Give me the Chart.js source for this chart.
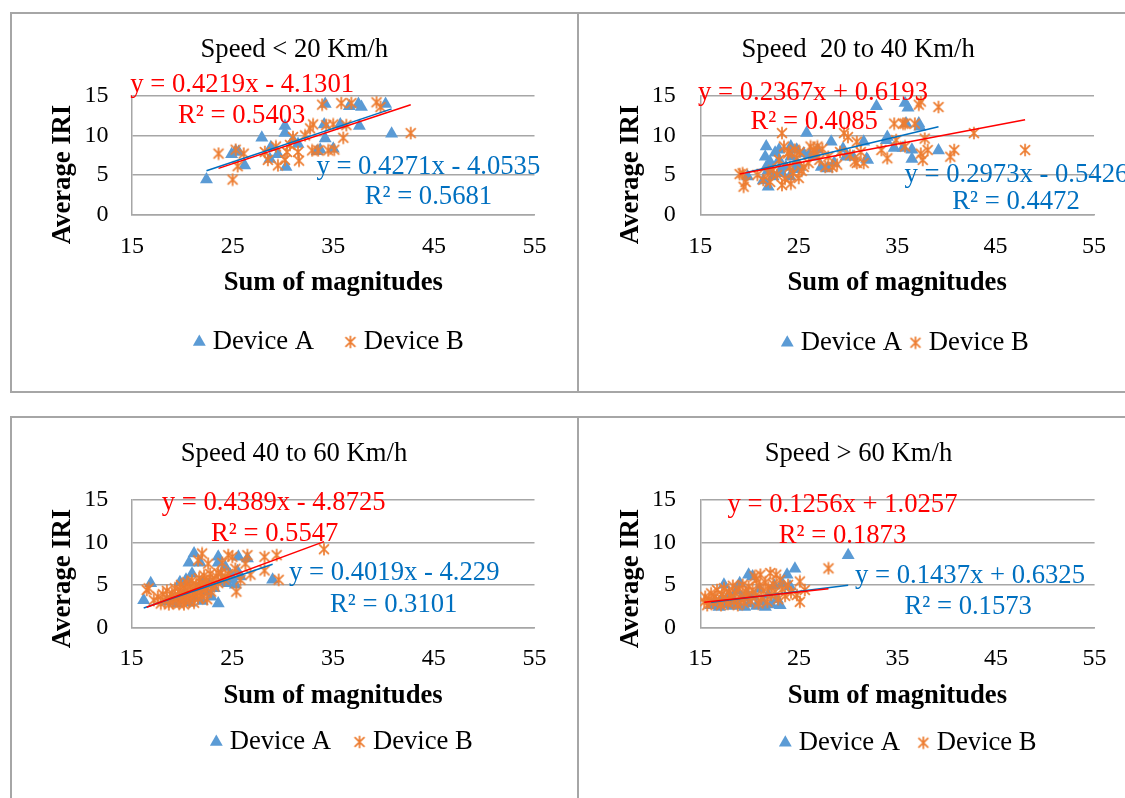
<!DOCTYPE html>
<html>
<head>
<meta charset="utf-8">
<script src="https://cdn.jsdelivr.net/npm/chart.js@4.4.0/dist/chart.umd.min.js"></script>
<style>
html, body { margin: 0; padding: 0; background: #fff; }
body { width: 1125px; height: 798px; overflow: hidden; position: relative; }
.panel { position: absolute; box-sizing: border-box; border: 2px solid #a6a6a6; }
canvas { position: absolute; }
</style>
</head>
<body>
<div class="panel" style="left:10px;top:12px;width:569px;height:381px"></div>
<div class="panel" style="left:577px;top:12px;width:560px;height:381px"></div>
<div class="panel" style="left:10px;top:416px;width:569px;height:400px"></div>
<div class="panel" style="left:577px;top:416px;width:560px;height:400px"></div>
<canvas id="c0" width="620" height="377" style="left:12px;top:14px"></canvas>
<canvas id="c1" width="620" height="377" style="left:579px;top:14px"></canvas>
<canvas id="c2" width="620" height="380" style="left:12px;top:418px"></canvas>
<canvas id="c3" width="620" height="380" style="left:579px;top:418px"></canvas>
<script>
const panelTitles = ['Speed < 20 Km/h', 'Speed  20 to 40 Km/h', 'Speed 40 to 60 Km/h', 'Speed > 60 Km/h'];
const seriesNames = ['Device A', 'Device B'];
const xRange = [15, 55];
const yRange = [0, 15];

// Speed < 20
const a1x = [22.4, 24.9, 25.3, 25.6, 26.2, 27.9, 28.8, 28.7, 29.5, 30.2, 30.2, 30.3, 31.0, 31.5, 33.4, 33.7, 34.2, 34.2, 34.1, 35.0, 35.7, 36.6, 37.5, 37.8, 37.6, 40.2, 40.8];
const a1y = [4.4, 7.6, 8.0, 7.9, 6.2, 9.7, 8.5, 7.0, 7.6, 11.2, 10.3, 6.0, 9.4, 8.9, 8.0, 8.2, 9.6, 14.0, 11.4, 8.3, 11.4, 13.7, 14.0, 13.6, 11.2, 14.0, 10.2];
const b1x = [23.6, 25.0, 25.3, 25.5, 26.1, 28.2, 28.5, 29.3, 29.5, 30.2, 30.4, 30.7, 31.0, 31.6, 31.5, 32.2, 32.7, 33.0, 32.9, 33.5, 33.9, 34.3, 34.5, 35.0, 35.1, 35.8, 36.0, 36.3, 36.8, 39.3, 39.7, 42.7];
const b1y = [7.7, 4.4, 8.2, 6.1, 7.7, 7.9, 6.9, 8.6, 6.2, 6.9, 7.9, 8.8, 9.8, 6.8, 7.9, 10.0, 10.9, 11.4, 8.1, 8.1, 13.9, 11.3, 8.1, 11.4, 8.2, 14.1, 9.7, 11.3, 14.1, 14.2, 13.6, 10.3];

// Speed 20 to 40
const a2x = [19.8, 21.4, 21.6, 21.7, 21.7, 21.9, 21.9, 22.1, 22.4, 22.6, 23.0, 23.0, 23.1, 23.3, 23.7, 24.1, 24.2, 24.2, 24.6, 24.8, 24.8, 25.1, 25.5, 25.8, 26.1, 26.6, 26.9, 27.3, 27.9, 28.3, 28.6, 29.5, 29.8, 30.5, 31.6, 31.9, 32.0, 32.9, 33.9, 34.0, 34.7, 35.6, 35.8, 35.9, 36.1, 36.5, 36.5, 37.2, 37.3, 39.2];
const a2y = [4.8, 4.3, 7.3, 8.6, 6.0, 3.5, 5.6, 6.6, 4.8, 7.8, 8.2, 6.9, 5.5, 5.2, 6.0, 4.8, 7.3, 8.6, 5.7, 8.2, 6.5, 6.0, 7.7, 10.3, 7.6, 7.3, 8.2, 6.0, 5.8, 9.2, 6.5, 8.3, 7.3, 7.3, 9.2, 7.0, 6.9, 13.7, 9.4, 9.8, 8.4, 8.4, 14.1, 11.5, 13.5, 8.2, 7.0, 11.5, 11.1, 8.1];
const b2x = [19.0, 19.3, 19.4, 19.6, 20.8, 21.4, 22.1, 22.4, 23.0, 23.3, 23.3, 23.5, 23.9, 24.1, 24.2, 24.4, 24.8, 25.0, 25.1, 25.5, 26.2, 26.5, 26.6, 26.9, 27.1, 27.7, 28.0, 28.4, 29.6, 30.0, 30.2, 30.7, 30.9, 30.9, 31.3, 31.6, 33.4, 34.0, 34.7, 34.9, 35.6, 35.8, 35.8, 36.8, 37.2, 37.4, 37.4, 37.6, 37.8, 38.1, 39.2, 40.4, 40.8, 42.8, 48.0, 22.8, 23.6, 24.6, 25.3, 26.0, 27.4, 28.9, 29.2, 21.9, 24.0];
const b2y = [5.1, 5.2, 3.5, 4.1, 5.0, 4.35, 4.1, 5.6, 6.9, 10.3, 3.7, 8.6, 7.7, 6.0, 3.9, 5.2, 7.1, 4.6, 7.9, 6.0, 8.6, 8.15, 7.9, 8.6, 6.9, 6.0, 7.3, 6.0, 10.3, 9.8, 7.5, 6.7, 9.2, 6.5, 7.9, 6.5, 8.15, 7.1, 11.5, 9.4, 11.5, 11.5, 8.6, 11.5, 13.9, 14.3, 7.7, 6.9, 9.6, 8.15, 13.6, 7.3, 8.15, 10.3, 8.15, 5.0, 4.5, 8.2, 5.5, 6.5, 8.3, 6.3, 7.9, 5.3, 7.9];

// Speed 40 to 60
const a3x = [16.2, 16.9, 18.5, 19.0, 19.5, 19.8, 20.0, 20.3, 20.4, 20.7, 20.8, 21.0, 21.2, 21.2, 21.6, 21.8, 22.0, 22.1, 22.3, 22.7, 22.9, 23.2, 23.6, 23.6, 23.6, 24.0, 24.3, 24.5, 24.8, 25.0, 25.3, 25.5, 25.6, 25.8, 26.5, 29.0];
const a3y = [3.2, 5.2, 3.0, 3.5, 2.8, 5.3, 3.2, 4.0, 5.6, 7.6, 2.9, 6.3, 8.7, 3.5, 4.6, 7.6, 3.1, 5.2, 4.2, 5.0, 3.6, 4.6, 8.3, 2.8, 7.6, 5.4, 7.1, 5.2, 6.2, 5.6, 5.0, 6.6, 8.3, 6.0, 8.1, 5.6];
const b3x = [17.2, 17.6, 17.9, 18.1, 18.3, 18.5, 18.7, 18.8, 19.0, 19.1, 19.3, 19.4, 19.6, 19.7, 19.8, 19.9, 20.0, 20.1, 20.2, 20.3, 20.4, 20.5, 20.6, 20.7, 20.8, 20.9, 21.0, 21.1, 21.2, 21.3, 21.4, 21.5, 21.6, 21.7, 21.8, 21.9, 22.0, 22.1, 22.2, 22.3, 22.4, 22.5, 22.6, 22.8, 22.9, 23.0, 23.2, 23.4, 23.6, 23.9, 24.2, 24.6,
  16.5, 16.7, 21.6, 22.0, 22.6, 24.0, 24.3, 24.6, 25.0, 25.3, 25.4, 25.8, 26.3, 26.5, 26.8, 28.2, 28.2, 29.4, 29.6, 34.1, 23.6];
const b3y = [3.2, 3.6, 2.8, 3.9, 3.1, 4.3, 2.7, 3.5, 4.0, 2.9, 4.6, 3.3, 3.8, 2.8, 4.4, 5.0, 3.3, 3.9, 2.7, 4.7, 3.5, 5.3, 4.1, 3.0, 4.8, 3.6, 5.5, 4.3, 2.9, 3.9, 5.0, 4.6, 3.4, 5.8, 4.1, 5.2, 3.6, 4.8, 6.1, 4.4, 5.5, 3.3, 5.0, 6.3, 4.2, 5.6, 4.8, 6.0, 5.2, 6.4, 5.6, 6.3,
  4.4, 4.6, 7.9, 8.7, 7.5, 7.6, 6.0, 8.5, 8.3, 6.9, 4.2, 5.6, 7.5, 8.5, 6.2, 8.3, 6.7, 8.5, 5.6, 9.2, 6.4];

// Speed > 60
const a4x = [16.1, 16.5, 16.9, 17.2, 17.4, 17.6, 17.9, 18.2, 18.4, 18.7, 18.9, 19.0, 19.2, 19.5, 19.7, 19.9, 20.0, 20.3, 20.4, 20.7, 21.0, 21.3, 21.6, 21.9, 22.2, 22.5, 22.8, 23.1, 23.3, 23.8, 24.1, 24.6, 30.0];
const a4y = [2.6, 3.1, 2.4, 3.4, 5.0, 2.7, 3.8, 2.5, 3.2, 4.3, 2.6, 5.2, 3.5, 2.4, 4.0, 6.2, 2.8, 6.0, 3.6, 2.5, 4.5, 3.0, 2.4, 3.8, 2.7, 4.9, 3.3, 2.6, 5.2, 6.2, 4.8, 6.9, 8.5];
const b4x = [15.4, 15.5, 15.7, 15.9, 16.1, 16.3, 16.5, 16.7, 16.9, 17.1, 17.2, 17.4, 17.6, 17.8, 17.9, 18.1, 18.3, 18.4, 18.6, 18.8, 18.9, 19.1, 19.3, 19.4, 19.6, 19.8, 19.9, 20.1, 20.3, 20.5, 20.6, 20.7, 20.9, 21.0, 21.1, 21.2, 21.4, 21.6, 21.8, 21.9, 22.1, 22.2, 22.4, 22.6, 22.7, 22.9, 23.1, 23.3, 23.6, 23.9, 24.2, 24.8, 25.1, 25.1, 25.6, 28.0];
const b4y = [3.0, 3.6, 2.6, 3.3, 4.0, 2.9, 3.6, 4.4, 3.1, 2.6, 3.9, 4.6, 3.3, 2.8, 4.2, 3.6, 4.9, 3.0, 4.0, 2.6, 4.6, 3.4, 5.0, 2.9, 4.2, 3.6, 4.8, 3.1, 4.4, 6.0, 3.7, 5.6, 2.8, 4.9, 6.2, 3.4, 4.3, 5.3, 3.0, 4.7, 6.4, 3.8, 5.1, 4.2, 6.2, 3.3, 5.6, 4.5, 3.7, 5.0, 4.1, 3.8, 5.4, 3.0, 4.4, 6.95];

// linear trendlines (as printed on the chart)
const slopeA = [0.4271, 0.2973, 0.4019, 0.1437];
const interceptA = [-4.0535, -0.5426, -4.229, 0.6325];
const r2A = [0.5681, 0.4472, 0.3101, 0.1573];
const slopeB = [0.4219, 0.2367, 0.4389, 0.1256];
const interceptB = [-4.1301, 0.6193, -4.8725, 1.0257];
const r2B = [0.5403, 0.4085, 0.5547, 0.1873];

const seriesA = [[a1x, a1y], [a2x, a2y], [a3x, a3y], [a4x, a4y]];
const seriesB = [[b1x, b1y], [b2x, b2y], [b3x, b3y], [b4x, b4y]];

// page layout of each panel (pixels)
const layouts = [
  { canvas: [12, 14, 620, 377], plot: [132, 96, 534.5, 214.3], legendY: 342, legendGap: 36.3, shift: -1.75, xTitleY: 283.3, yPad: 23.6, xPad: 17.6,
    eq: [[184.4, 78.3], [232.7, 108], [-1.8, -4], [46, 26.7]] },
  { canvas: [579, 14, 620, 377], plot: [700.3, 96, 1094, 214.3], legendY: 342.7, legendGap: 13.4, shift: 10.85, xTitleY: 283.3, yPad: 24.5, xPad: 17.6,
    eq: [[204.2, 85.7], [252, 113.3], [-2.3, 4], [50.2, 33.3]] },
  { canvas: [12, 418, 620, 380], plot: [131.6, 500, 534.5, 627.3], legendY: 742, legendGap: 28.4, shift: 11.5, xTitleY: 696, yPad: 23.4, xPad: 17.3,
    eq: [[157.4, 80], [198.4, 111.7], [30.2, 10], [79.4, 40.7]] },
  { canvas: [579, 418, 620, 380], plot: [700.3, 500, 1094.6, 627.3], legendY: 742.7, legendGap: 23.2, shift: 13.5, xTitleY: 696, yPad: 24.3, xPad: 17.3,
    eq: [[154.7, 83.3], [204.2, 114], [27.2, 11.7], [78.5, 42.7]] }
];

const BIG = 26.67;
const SERIF = "'Liberation Serif', 'Times New Roman', serif";
const Y_AXIS_W = 52;
Chart.defaults.font.family = SERIF;
Chart.defaults.color = '#000';

function starMarker(size, color) {
  const c = document.createElement('canvas');
  c.width = size; c.height = size;
  const g = c.getContext('2d');
  const m = size / 2, r = size / 2 - 0.8, d = r * 0.8;
  g.strokeStyle = color;
  g.lineWidth = 1.7;
  g.beginPath();
  g.moveTo(m - d, m - d); g.lineTo(m + d, m + d);
  g.moveTo(m + d, m - d); g.lineTo(m - d, m + d);
  g.moveTo(m, m - r); g.lineTo(m, m + r);
  g.stroke();
  return c;
}
const star = starMarker(14, '#ED7D31');

function points(xs, ys) {
  return xs.map((x, i) => ({ x: x, y: ys[i] }));
}
function trend(xs, a, b) {
  const lo = Math.min(...xs), hi = Math.max(...xs);
  return [{ x: lo, y: a * lo + b }, { x: hi, y: a * hi + b }];
}
function eqText(a, b) {
  return 'y = ' + a + 'x ' + (b < 0 ? '- ' : '+ ') + Math.abs(b);
}

const panelText = {
  id: 'panelText',
  afterDraw(chart, args, o) {
    const ctx = chart.ctx, a = chart.chartArea;
    ctx.save();
    ctx.fillStyle = '#000';
    ctx.font = BIG + 'px ' + SERIF;
    ctx.textAlign = 'center';
    ctx.textBaseline = 'alphabetic';
    ctx.fillText(o.title, (a.left + a.right) / 2 - 39, a.top - 38.7);

    ctx.save();
    ctx.translate(a.left - 62, a.top + 78.5);
    ctx.rotate(-Math.PI / 2);
    ctx.font = 'bold ' + BIG + 'px ' + SERIF;
    ctx.fillText('Average IRI', 0, 0);
    ctx.restore();

    ctx.textAlign = 'left';
    ctx.font = BIG + 'px ' + SERIF;
    o.labels.forEach(l => {
      ctx.fillStyle = l.color;
      ctx.fillText(l.text, a.left + l.pos[0], a.top + l.pos[1]);
    });
    ctx.restore();
  }
};

layouts.forEach((L, i) => {
  const [cx, cy, cw, ch] = L.canvas;
  const [pl, pt, pr, pb] = L.plot;
  // a spacer axis on the right lets the centred legend sit off the plot centre, as in the original
  const wy = Y_AXIS_W;
  const wr = Y_AXIS_W + 2 * L.shift;
  const legTop = L.legendY - L.legendGap - BIG / 2;
  const legBottom = legTop + BIG + L.legendGap + 10;
  const hx = legTop - pb;
  const xTitlePad = legTop - BIG * 1.2 / 2 - L.xTitleY;

  const labels = [
    { text: eqText(slopeA[i], interceptA[i]), color: '#0070C0', pos: L.eq[0] },
    { text: 'R² = ' + r2A[i], color: '#0070C0', pos: L.eq[1] },
    { text: eqText(slopeB[i], interceptB[i]), color: '#FF0000', pos: L.eq[2] },
    { text: 'R² = ' + r2B[i], color: '#FF0000', pos: L.eq[3] }
  ];

  new Chart(document.getElementById('c' + i), {
    type: 'scatter',
    data: {
      datasets: [
        { label: seriesNames[0], data: points(seriesA[i][0], seriesA[i][1]), pointStyle: 'triangle', pointRadius: 7.5,
          backgroundColor: '#5B9BD5', borderColor: '#5B9BD5', borderWidth: 0, order: 3 },
        { label: seriesNames[1], data: points(seriesB[i][0], seriesB[i][1]), pointStyle: star, pointRadius: 7,
          backgroundColor: '#ED7D31', borderColor: '#ED7D31', order: 2 },
        { label: 'trend A', data: trend(seriesA[i][0], slopeA[i], interceptA[i]), showLine: true, pointRadius: 0,
          borderColor: '#0070C0', borderWidth: 1.5, order: 1 },
        { label: 'trend B', data: trend(seriesB[i][0], slopeB[i], interceptB[i]), showLine: true, pointRadius: 0,
          borderColor: '#FF0000', borderWidth: 1.5, order: 0 }
      ]
    },
    options: {
      responsive: false,
      animation: false,
      events: [],
      layout: { padding: { left: pl - cx - wy, right: cx + cw - pr - wr, top: pt - cy, bottom: cy + ch - legBottom } },
      plugins: {
        title: { display: false },
        tooltip: { enabled: false },
        legend: {
          position: 'bottom',
          labels: {
            usePointStyle: true, boxWidth: 0.1, boxHeight: 10.5, padding: L.legendGap,
            font: { size: BIG }, color: '#000',
            filter: item => item.datasetIndex < 2,
            sort: (p, q) => p.datasetIndex - q.datasetIndex
          }
        },
        panelText: { title: panelTitles[i], labels: labels }
      },
      scales: {
        x: {
          type: 'linear', position: 'bottom', min: xRange[0], max: xRange[1],
          ticks: { stepSize: 10, padding: L.xPad, font: { size: 24 }, color: '#000' },
          grid: { display: false, drawTicks: false },
          border: { display: true, color: '#a6a6a6', width: 1.5 },
          title: { display: true, text: 'Sum of magnitudes', color: '#000', font: { size: BIG, weight: 'bold' }, padding: { top: 0, bottom: xTitlePad } },
          afterFit: s => { s.height = hx; }
        },
        y: {
          type: 'linear', position: 'left', min: yRange[0], max: yRange[1],
          ticks: { stepSize: 5, padding: L.yPad, font: { size: 24 }, color: '#000' },
          grid: { color: '#a6a6a6', lineWidth: 1.5, drawTicks: false },
          border: { display: true, color: '#a6a6a6', width: 1.5 },
          afterFit: s => { s.width = wy; }
        },
        pad: {
          type: 'linear', axis: 'y', position: 'right', display: true,
          grid: { display: false, drawTicks: false }, border: { display: false }, ticks: { display: false },
          afterFit: s => { s.width = wr; }
        }
      }
    },
    plugins: [panelText]
  });
});
</script>
</body>
</html>
